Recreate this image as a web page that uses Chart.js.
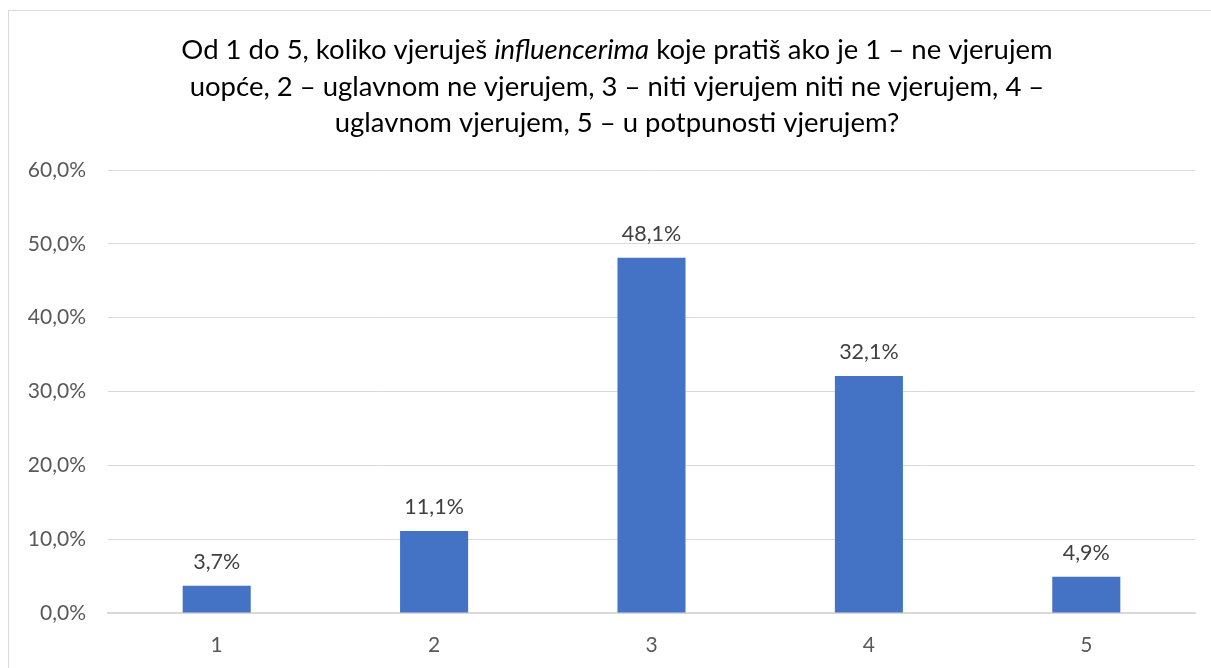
<!DOCTYPE html>
<html>
<head>
<meta charset="utf-8">
<script src="https://cdn.jsdelivr.net/npm/chart.js@4.4.1/dist/chart.umd.min.js"></script>
<style>
html,body{margin:0;padding:0;background:#fff;}
#wrap{width:1211px;height:668px;position:relative;}
</style>
</head>
<body>
<div id="wrap"><canvas id="c" width="1211" height="668"></canvas></div>
<script>
const categories = ['1', '2', '3', '4', '5'];
const values = [3.7, 11.1, 48.1, 32.1, 4.9];
const yMin = 0, yMax = 60, yStep = 10;
const titleLines = [
  [['Od 1 do 5, koliko vjeruješ ', false], ['influencerima', true], [' koje pratiš ako je 1 – ne vjerujem', false]],
  [['uopće, 2 – uglavnom ne vjerujem, 3 – niti vjerujem niti ne vjerujem, 4 –', false]],
  [['uglavnom vjerujem, 5 – u potpunosti vjerujem?', false]]
];

const FONT = 'Lato, "Liberation Sans", sans-serif';
const fmt = v => v.toFixed(1).replace('.', ',') + '%';

const frame = {
  id: 'frame',
  beforeDraw(chart) {
    const ctx = chart.ctx;
    ctx.save();
    ctx.fillStyle = '#fff';
    ctx.fillRect(0, 0, chart.width, chart.height);
    ctx.strokeStyle = '#d9d9d9';
    ctx.lineWidth = 1;
    ctx.strokeRect(8.5, 10.5, 1300, 800);
    ctx.restore();
  }
};

const titlePlugin = {
  id: 'mixedTitle',
  afterDraw(chart) {
    const ctx = chart.ctx;
    ctx.save();
    ctx.fillStyle = '#000';
    ctx.textBaseline = 'middle';
    ctx.textAlign = 'left';
    const size = 27.5;
    const cx = 617;
    const ys = [50, 87, 123];
    titleLines.forEach((line, i) => {
      let w = 0;
      line.forEach(([t, it]) => { ctx.font = (it ? 'italic ' : '') + size + 'px ' + FONT; w += ctx.measureText(t).width; });
      let x = cx - w / 2;
      line.forEach(([t, it]) => {
        ctx.font = (it ? 'italic ' : '') + size + 'px ' + FONT;
        ctx.fillText(t, x, ys[i]);
        x += ctx.measureText(t).width;
      });
    });
    ctx.restore();
  }
};

const valueLabels = {
  id: 'valueLabels',
  afterDatasetsDraw(chart) {
    const ctx = chart.ctx;
    const meta = chart.getDatasetMeta(0);
    ctx.save();
    ctx.fillStyle = '#404040';
    ctx.font = '21.5px ' + FONT;
    ctx.textAlign = 'center';
    ctx.textBaseline = 'middle';
    meta.data.forEach((bar, i) => {
      ctx.fillText(fmt(values[i]), bar.x, bar.y - 24);
    });
    ctx.restore();
  }
};

new Chart(document.getElementById('c'), {
  type: 'bar',
  data: {
    labels: categories,
    datasets: [{
      data: values,
      backgroundColor: '#4472C4',
      borderWidth: 0,
      barPercentage: 0.313,
      categoryPercentage: 1
    }]
  },
  options: {
    responsive: false,
    animation: false,
    devicePixelRatio: 1,
    layout: { padding: { top: 170, right: 16, left: 8, bottom: 0 } },
    plugins: { legend: { display: false }, tooltip: { enabled: false }, title: { display: false } },
    scales: {
      x: {
        grid: { display: false, drawTicks: false },
        border: { display: true, color: '#d9d9d9', width: 2 },
        ticks: { color: '#595959', font: { family: FONT, size: 21 }, padding: 20 },
        afterFit(s) { s.height = 55; }
      },
      y: {
        min: yMin, max: yMax,
        grid: { color: '#d9d9d9', lineWidth: 1, drawTicks: false },
        border: { display: false },
        ticks: { stepSize: yStep, color: '#595959', font: { family: FONT, size: 21 }, padding: 22, callback: v => fmt(v) },
        afterFit(s) { s.width = 100; }
      }
    }
  },
  plugins: [frame, titlePlugin, valueLabels]
});
</script>
</body>
</html>
